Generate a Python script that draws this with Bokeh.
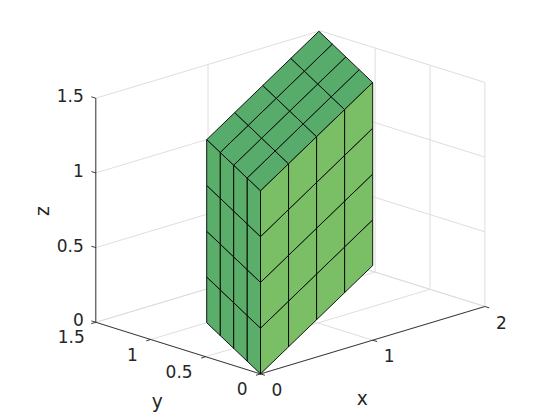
from bokeh.plotting import figure
from bokeh.models import ColumnDataSource, Range1d
from bokeh.core.properties import value
from bokeh.embed import file_html
from bokeh.resources import INLINE

# ---- data ----
x_ticks = [0, 1, 2]
y_ticks = [0, 0.5, 1, 1.5]
z_ticks = [0, 0.5, 1, 1.5]
x_tick_labels = ["0", "1", "2"]
y_tick_labels = ["0", "0.5", "1", "1.5"]
z_tick_labels = ["0", "0.5", "1", "1.5"]

# sheared 4x4x4 block: node positions along each edge of the mesh
mesh_x = [0, 0.25, 0.5, 0.75, 1.0]
mesh_y = [0, 0.1225, 0.245, 0.3675, 0.49]
mesh_z_rise_x = [0, 0.125, 0.25, 0.375, 0.5]     # floor rise along x
mesh_z_rise_y = [0, 0.0575, 0.115, 0.1725, 0.23] # floor rise along y
mesh_height = [0, 0.306, 0.6125, 0.919, 1.225]   # height above the sheared floor

# ---- view (3D -> page pixels) ----
OX, OY = 260.0, 373.4
EX = (112.2, -33.7)
EY = (-109.8, -34.4)
EZ = -149.4


def proj(x, y, z):
    return OX + x * EX[0] + y * EY[0], OY + x * EX[1] + y * EY[1] + z * EZ


def seg(a, b):
    pa, pb = proj(*a), proj(*b)
    return [pa[0], pb[0]], [pa[1], pb[1]]


p = figure(width=552, height=412, output_backend="svg", toolbar_location=None,
           x_axis_type=None, y_axis_type=None, min_border=0,
           x_range=Range1d(0, 552), y_range=Range1d(412, 0),
           outline_line_color=None, background_fill_color="white",
           border_fill_color="white")
p.grid.visible = False

xmin, xmax = x_ticks[0], x_ticks[-1]
ymin, ymax = y_ticks[0], y_ticks[-1]
zmin, zmax = z_ticks[0], z_ticks[-1]

# ---- grid on floor and back walls ----
gx, gy = [], []
def add_grid(a, b):
    sx, sy = seg(a, b)
    gx.append(sx)
    gy.append(sy)

for xt in x_ticks:
    add_grid((xt, ymin, zmin), (xt, ymax, zmin))
    add_grid((xt, ymax, zmin), (xt, ymax, zmax))
for yt in y_ticks:
    add_grid((xmin, yt, zmin), (xmax, yt, zmin))
    add_grid((xmax, yt, zmin), (xmax, yt, zmax))
for zt in z_ticks:
    add_grid((xmin, ymax, zt), (xmax, ymax, zt))
    add_grid((xmax, ymin, zt), (xmax, ymax, zt))
p.multi_line(gx, gy, line_color="#dedede", line_width=1)

# ---- axes and ticks ----
ax, ay = [], []
def add_axis(a, b):
    sx, sy = seg(a, b)
    ax.append(sx)
    ay.append(sy)

add_axis((xmin, ymin, zmin), (xmax, ymin, zmin))
add_axis((xmin, ymin, zmin), (xmin, ymax, zmin))
add_axis((xmin, ymax, zmin), (xmin, ymax, zmax))
TICK = 0.04
for xt in x_ticks:
    add_axis((xt, ymin, zmin), (xt, ymin - TICK, zmin))
for yt in y_ticks:
    add_axis((xmin, yt, zmin), (xmin - TICK, yt, zmin))
for zt in z_ticks:
    add_axis((xmin, ymax, zt), (xmin, ymax + TICK, zt))
p.multi_line(ax, ay, line_color="#262626", line_width=0.9)

# ---- block faces ----
def node(i, j, k):
    return proj(mesh_x[i], mesh_y[j], mesh_z_rise_x[i] + mesh_z_rise_y[j] + mesh_height[k])


def quad(a, b, c, d):
    return [a[0], b[0], c[0], d[0]], [a[1], b[1], c[1], d[1]]


LEFT, TOP, RIGHT = "#5aae69", "#58ac6b", "#7abe66"
fx, fy, fc = [], [], []
for a in range(4):
    for b in range(4):
        # y-face at x=0
        qx, qy = quad(node(0, a, b), node(0, a + 1, b), node(0, a + 1, b + 1), node(0, a, b + 1))
        fx.append(qx); fy.append(qy); fc.append(LEFT)
        # x-face at y=0
        qx, qy = quad(node(a, 0, b), node(a + 1, 0, b), node(a + 1, 0, b + 1), node(a, 0, b + 1))
        fx.append(qx); fy.append(qy); fc.append(RIGHT)
        # top
        qx, qy = quad(node(a, b, 4), node(a + 1, b, 4), node(a + 1, b + 1, 4), node(a, b + 1, 4))
        fx.append(qx); fy.append(qy); fc.append(TOP)

p.patches("xs", "ys", source=ColumnDataSource(dict(xs=fx, ys=fy, c=fc)),
          fill_color="c", line_color="#000000", line_width=0.9)

# ---- texts ----
FONT = value("DejaVu Sans")
TCOL = "#262626"


def labels(px, py, txt, align="center", size="17px", angle=0.0):
    p.text(px, py, text=txt, text_font=FONT, text_font_size=value(size), text_color=TCOL,
           text_align=align, text_baseline="middle", angle=angle)


pts = [proj(v, ymin, zmin) for v in x_ticks]
labels([q[0] + 16.5 for q in pts], [q[1] + 15.5 for q in pts], x_tick_labels)
pts = [proj(xmin, v, zmin) for v in y_ticks]
labels([q[0] - 13 for q in pts[:3]], [q[1] + 14.5 for q in pts[:3]], y_tick_labels[:3], align="right")
labels([pts[3][0] - 11], [pts[3][1] + 14.5], y_tick_labels[3:], align="right")
pts = [proj(xmin, ymax, v) for v in z_ticks]
labels([q[0] - 12 for q in pts], [q[1] - 2.5 for q in pts], z_tick_labels, align="right")

labels([361.7], [398.3], ["x"], size="18.7px")
labels([156.7], [401], ["y"], size="18.7px")
labels([41.7], [210.7], ["z"], size="18.7px", angle=1.5708)

open("out.html", "w").write(file_html(p, INLINE))
